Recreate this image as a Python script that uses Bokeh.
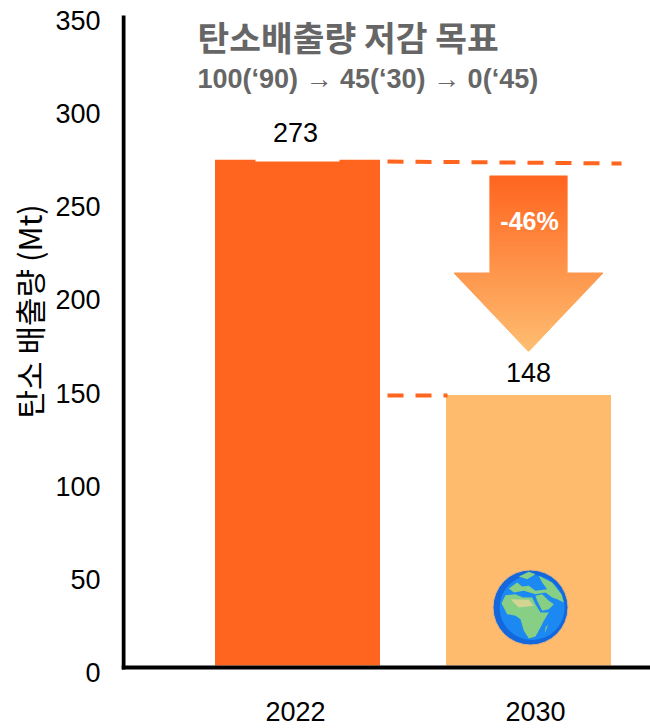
from bokeh.plotting import figure
from bokeh.embed import file_html
from bokeh.resources import INLINE
from bokeh.models import Range1d, LinearAxis, FixedTicker, Label, Title

years = ["2022", "2030"]
bar_positions = [0, 1]
emissions = [273, 146]
bar_labels = ["273", "148"]
colors = ["#FF651F", "#FEBB6E"]
y_ticks = [0, 50, 100, 150, 200, 250, 300, 350]
y_title = "탄소 배출량 (Mt)"
title1 = "탄소배출량 저감 목표"
title2 = "100(‘90)  → 45(‘30)  → 0(‘45)"
change = "-46%"

W, H = 650, 728
FL, FR, FT, FB = 121, 650, 8, 680   # frame edges in page px
SY = 1.853; Y0 = 665
SX = 231; X0 = 297

def X(px): return (px - X0) / SX
def Y(py): return (Y0 - py) / SY

p = figure(width=W, height=H, output_backend="svg", toolbar_location=None,
           x_range=Range1d(X(FL), X(FR)), y_range=Range1d(Y(FB), Y(FT)),
           x_axis_location=None, y_axis_location=None,
           min_border_left=FL, min_border_right=W - FR,
           min_border_top=FT, min_border_bottom=H - FB)
p.xgrid.visible = False
p.ygrid.visible = False
p.outline_line_color = None

# tick labels sit a little below their nominal height in the reference: 0 at 672px, 350 at 20px
tick_scale = (672 - 20) / 350
p.extra_y_ranges["ticks"] = Range1d((672 - FB) / tick_scale, 350 + (20 - FT) / tick_scale)
p.extra_x_ranges["ticks"] = Range1d((FL - 295) / 240, (FR - 295) / 240)

SANS = "Liberation Sans"
yax = LinearAxis(y_range_name="ticks", ticker=FixedTicker(ticks=y_ticks),
                 axis_line_color=None,
                 major_tick_line_color=None, minor_tick_line_color=None,
                 major_label_text_font=SANS, major_label_text_font_size="27px",
                 major_label_text_color="black", major_label_standoff=15)
p.add_layout(yax, "left")
xax = LinearAxis(x_range_name="ticks", ticker=FixedTicker(ticks=bar_positions),
                 major_label_overrides=dict(zip(bar_positions, years)),
                 axis_line_color=None,
                 major_tick_line_color=None, minor_tick_line_color=None,
                 major_label_text_font=SANS, major_label_text_font_size="27px",
                 major_label_text_color="black", major_label_standoff=15)
p.add_layout(xax, "below")
p.add_layout(Title(text=y_title, text_font="Noto Sans CJK KR", text_font_size="31px",
                   text_font_style="normal", text_color="black", align="left",
                   offset=262, standoff=3), "left")

# bars
p.vbar(x=bar_positions, top=emissions, bottom=0, width=165 / SX, fill_color=colors, line_color=None)
# axis lines (the frame is a little larger than the axes so the tick labels can hang below them)
p.line([X(123), X(123)], [Y(15), Y(669)], line_color="black", line_width=4)
p.line([X(121), X(650)], [Y(667), Y(667)], line_color="black", line_width=4)
# white notch left by the label box above the first bar
p.quad(left=[X(255)], right=[X(339)], bottom=[Y(161)], top=[Y(150)], fill_color="white", line_color=None)

# dashed guides
p.line([X(387), X(621)], [Y(161), Y(163)], line_color="#FF651F", line_width=4, line_dash="16 12")
p.line([X(387), X(447)], [Y(395), Y(395)], line_color="#FF651F", line_width=4, line_dash="16 12")

# gradient arrow, built of thin slices
def mix(t):
    a = (0xFF, 0x65, 0x1F); b = (0xFE, 0xBE, 0x72)
    return "#%02X%02X%02X" % tuple(round(a[i] + (b[i] - a[i]) * t) for i in range(3))
ATOP, ASH, ATIP = 175, 272, 351
AC = 528
lefts, rights, tops, bots, cols = [], [], [], [], []
for r in range(ATOP, ATIP):
    hw = 39 if r < ASH else 75 * (ATIP - r - 0.5) / (ATIP - ASH)
    lefts.append(X(AC - hw)); rights.append(X(AC + hw))
    tops.append(Y(r)); bots.append(Y(min(r + 1.6, ATIP)))
    cols.append(mix((r - ATOP) / (ATIP - ATOP)))
p.quad(left=lefts, right=rights, top=tops, bottom=bots, fill_color=cols, line_color=None)

# globe: outline points read from the zoomed emoji
def zx(v): return X(485 + v / 3)
def zy(v): return Y(562 + v / 3)
def blob(pts, color):
    p.patch([zx(a) for a, _ in pts], [zy(b) for _, b in pts], fill_color=color, line_color=None)

p.scatter([zx(135)], [zy(135)], size=75, marker="circle", fill_color="#1468DE", line_color="#E0B080", line_width=1)
p.scatter([zx(140)], [zy(135)], size=65, marker="circle", fill_color="#1C88F2", line_color=None)
GREEN = "#86CF84"
blob([(48,122),(60,98),(90,95),(112,105),(140,105),(150,125),(165,150),(190,150),(175,175),(165,195),(150,222),(130,228),(115,205),(105,170),(90,160),(65,155)], GREEN)
blob([(150,100),(170,95),(190,115),(205,125),(190,140),(170,145),(155,115)], GREEN)
blob([(70,78),(95,60),(110,72),(130,70),(150,85),(185,80),(170,60),(160,40),(200,60),(228,95),(235,120),(215,110),(200,105),(180,90),(150,95),(115,85),(85,90)], GREEN)
blob([(100,42),(130,28),(150,35),(125,50)], GREEN)
blob([(180,195),(188,185),(178,212)], GREEN)
blob([(75,110),(130,112),(145,130),(100,135)], "#D4D492")

def text(px, py, s, size, color="black", font=SANS, style="normal", align="center"):
    p.add_layout(Label(x=X(px), y=Y(py), text=s, text_font=font, text_font_size=f"{size}px",
                       text_color=color, text_font_style=style, text_align=align,
                       text_baseline="middle"))

text(295, 132, bar_labels[0], 27)
text(528, 372, bar_labels[1], 27)
text(529, 220, change, 25, color="white", style="bold")
text(197, 35, title1, 34.5, color="#666666", font="Noto Sans CJK KR", style="bold", align="left")
text(197, 78, title2, 27, color="#666666", style="bold", align="left")

open("out.html", "w").write(file_html(p, INLINE))
